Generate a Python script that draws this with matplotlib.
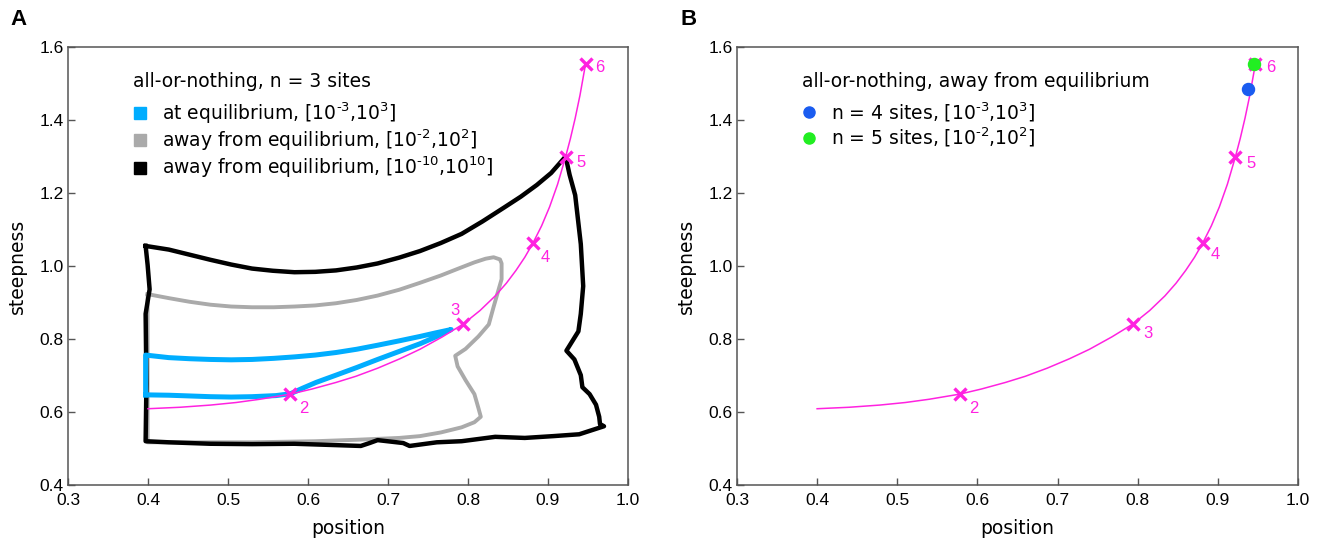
import matplotlib
matplotlib.use("Agg")
import matplotlib.pyplot as plt
from matplotlib.lines import Line2D

# trade-off curve shared by both panels (position, steepness)
curve_x = [0.400, 0.440, 0.478, 0.510, 0.540, 0.578, 0.605, 0.635, 0.660, 0.687,
           0.715, 0.740, 0.768, 0.794, 0.815, 0.834, 0.848, 0.860, 0.871, 0.881,
           0.892, 0.902, 0.912, 0.922, 0.928, 0.934, 0.940, 0.947]
curve_y = [0.609, 0.613, 0.619, 0.626, 0.635, 0.649, 0.663, 0.681, 0.698, 0.720,
           0.746, 0.772, 0.806, 0.841, 0.878, 0.918, 0.953, 0.988, 1.024, 1.062,
           1.110, 1.162, 1.224, 1.299, 1.349, 1.405, 1.468, 1.554]

# equilibrium optimum for n = 2..6 sites
site_n = ["2", "3", "4", "5", "6"]
site_x = [0.578, 0.794, 0.881, 0.922, 0.947]
site_y = [0.649, 0.841, 1.062, 1.299, 1.554]

# n = 3 boundary at equilibrium, parameters in [1e-3, 1e3]
eq_x = [0.397, 0.397, 0.426, 0.452, 0.478, 0.504, 0.530, 0.557, 0.583, 0.609,
        0.635, 0.661, 0.687, 0.714, 0.740, 0.760, 0.779,
        0.760, 0.740, 0.714, 0.687, 0.661, 0.635, 0.610, 0.593, 0.578,
        0.560, 0.530, 0.504, 0.478, 0.452, 0.426, 0.397]
eq_y = [0.647, 0.756, 0.749, 0.746, 0.744, 0.743, 0.744, 0.747, 0.751, 0.756,
        0.763, 0.772, 0.783, 0.795, 0.807, 0.817, 0.826,
        0.806, 0.787, 0.766, 0.744, 0.722, 0.701, 0.681, 0.665, 0.650,
        0.645, 0.642, 0.641, 0.642, 0.644, 0.646, 0.647]

# n = 3 boundary away from equilibrium, parameters in [1e-2, 1e2]
away2_x = [0.3995, 0.426, 0.452, 0.478, 0.504, 0.530, 0.557, 0.583, 0.609, 0.635,
           0.661, 0.687, 0.714, 0.740, 0.766, 0.788, 0.808, 0.822, 0.832, 0.840,
           0.842, 0.842, 0.837, 0.832, 0.826, 0.813, 0.797, 0.784, 0.787, 0.797,
           0.808, 0.813, 0.816, 0.808, 0.792, 0.766, 0.740, 0.714, 0.661, 0.609,
           0.530, 0.426, 0.3995, 0.3995]
away2_y = [0.923, 0.912, 0.902, 0.894, 0.889, 0.887, 0.887, 0.889, 0.892, 0.898,
           0.907, 0.919, 0.935, 0.954, 0.974, 0.993, 1.010, 1.020, 1.024, 1.018,
           1.007, 0.964, 0.926, 0.888, 0.840, 0.807, 0.773, 0.754, 0.725, 0.687,
           0.649, 0.611, 0.587, 0.572, 0.558, 0.544, 0.534, 0.529, 0.524, 0.520,
           0.517, 0.517, 0.517, 0.923]

# n = 3 boundary away from equilibrium, parameters in [1e-10, 1e10]
away10_x = [0.397, 0.426, 0.452, 0.478, 0.504, 0.530, 0.556, 0.583, 0.609, 0.635,
            0.661, 0.687, 0.714, 0.740, 0.766, 0.792, 0.818, 0.845, 0.866, 0.886,
            0.904, 0.922, 0.927, 0.934, 0.941, 0.944, 0.941, 0.938, 0.923, 0.933,
            0.941, 0.943, 0.952, 0.960, 0.964, 0.965, 0.970, 0.939, 0.907, 0.871,
            0.834, 0.792, 0.761, 0.727, 0.719, 0.687, 0.677, 0.666, 0.625, 0.583,
            0.530, 0.478, 0.426, 0.397, 0.398, 0.397, 0.402, 0.3995, 0.397]
away10_y = [1.055, 1.045, 1.031, 1.017, 1.004, 0.993, 0.987, 0.983, 0.984, 0.988,
            0.996, 1.007, 1.023, 1.041, 1.063, 1.088, 1.122, 1.160, 1.190, 1.222,
            1.255, 1.300, 1.250, 1.194, 1.060, 0.945, 0.869, 0.821, 0.768, 0.744,
            0.701, 0.668, 0.649, 0.620, 0.587, 0.567, 0.561, 0.539, 0.534, 0.529,
            0.532, 0.520, 0.517, 0.507, 0.515, 0.523, 0.515, 0.507, 0.510, 0.513,
            0.512, 0.513, 0.517, 0.520, 0.677, 0.869, 0.936, 1.003, 1.055]

# optima for more sites, away from equilibrium
HY = "\u2010"
dots_label = ["n = 4 sites, [10$^{\\mathregular{" + HY + "3}}$,10$^{\\mathregular{3}}$]",
              "n = 5 sites, [10$^{\\mathregular{" + HY + "2}}$,10$^{\\mathregular{2}}$]"]
dots_x = [0.938, 0.945]
dots_y = [1.484, 1.553]

MAGENTA = "#ff22e0"
BLUE = "#00adff"
GRAY = "#aaaaaa"
TICKFONT = "Liberation Sans"
FS = 13.5

fig = plt.figure(figsize=(13.26, 5.46), dpi=100)
ax1 = fig.add_axes([0.0513, 0.1117, 0.4223, 0.8022])
ax2 = fig.add_axes([0.5558, 0.1117, 0.4230, 0.8022])


def style_axes(ax):
    ax.set_xlim(0.3, 1.0)
    ax.set_ylim(0.4, 1.6)
    ax.set_xticks([0.3, 0.4, 0.5, 0.6, 0.7, 0.8, 0.9, 1.0])
    ax.set_yticks([0.4, 0.6, 0.8, 1.0, 1.2, 1.4, 1.6])
    ax.xaxis.set_major_formatter(matplotlib.ticker.FormatStrFormatter("%.1f"))
    ax.yaxis.set_major_formatter(matplotlib.ticker.FormatStrFormatter("%.1f"))
    ax.tick_params(direction="in", length=5, width=1, color="#555555",
                   labelsize=12.5)
    ax.tick_params(axis="x", pad=6)
    ax.tick_params(axis="y", pad=3)
    for lab in ax.get_xticklabels() + ax.get_yticklabels():
        lab.set_fontfamily(TICKFONT)
    for sp in ax.spines.values():
        sp.set_color("#555555")
        sp.set_linewidth(1.1)
    ax.set_xlabel("position", fontsize=FS, labelpad=8)
    ax.set_ylabel("steepness", fontsize=FS, labelpad=9)


def draw_curve(ax, label_offsets):
    ax.plot(curve_x, curve_y, color=MAGENTA, lw=1.1, zorder=5)
    ax.plot(site_x, site_y, ls="none", marker="x", ms=8, mew=2.4,
            color=MAGENTA, zorder=6)
    for n, x, y, (dx, dy) in zip(site_n, site_x, site_y, label_offsets):
        ax.annotate(n, (x, y), xytext=(dx, dy), textcoords="offset points",
                    ha="center", va="center", color=MAGENTA, fontsize=12,
                    family=TICKFONT, zorder=6)


def add_legend(ax, handles, labels, title):
    # heading drawn as plain text so its gap to the rows can be set freely
    ax.text(0.116, 0.921, title, transform=ax.transAxes, fontsize=FS,
            va="center", ha="left")
    return ax.legend(handles, labels, loc="upper left",
                     bbox_to_anchor=(0.1186, 0.879),
                     frameon=False, fontsize=FS, borderpad=0, borderaxespad=0,
                     handlelength=0.6, handletextpad=0.87, labelspacing=0.1)


# panel A
style_axes(ax1)
ax1.plot(away2_x, away2_y, color=GRAY, lw=2.8, zorder=2)
ax1.plot(away10_x, away10_y, color="black", lw=3.2, zorder=3)
ax1.plot(eq_x, eq_y, color=BLUE, lw=3.6, zorder=4)
draw_curve(ax1, [(10, -10), (-6, 10), (9, -10), (11, -4), (10, -3)])

handles1 = [
    Line2D([], [], ls="none", marker="s", ms=8, color=BLUE),
    Line2D([], [], ls="none", marker="s", ms=8, color=GRAY),
    Line2D([], [], ls="none", marker="s", ms=8, color="black"),
]
labels1 = [
    "at equilibrium, [10$^{\\mathregular{" + HY + "3}}$,10$^{\\mathregular{3}}$]",
    "away from equilibrium, [10$^{\\mathregular{" + HY + "2}}$,10$^{\\mathregular{2}}$]",
    "away from equilibrium, [10$^{\\mathregular{" + HY + "10}}$,10$^{\\mathregular{10}}$]",
]
add_legend(ax1, handles1, labels1, "all-or-nothing, n = 3 sites")

# panel B
style_axes(ax2)
draw_curve(ax2, [(10, -10), (11, -7), (9, -8), (11, -5), (11, -3)])
ax2.scatter(dots_x[0], dots_y[0], s=75, color="#1a5cf0", zorder=7)
ax2.scatter(dots_x[1], dots_y[1], s=75, color="#22ee22", zorder=7)

handles2 = [
    Line2D([], [], ls="none", marker="o", ms=8, color="#1a5cf0"),
    Line2D([], [], ls="none", marker="o", ms=8, color="#22ee22"),
]
add_legend(ax2, handles2, dots_label, "all-or-nothing, away from equilibrium")

fig.text(0.008, 0.965, "A", fontsize=16, fontweight="bold", family=TICKFONT,
         va="center")
fig.text(0.513, 0.965, "B", fontsize=16, fontweight="bold", family=TICKFONT,
         va="center")

fig.savefig("out.png", dpi=100)
